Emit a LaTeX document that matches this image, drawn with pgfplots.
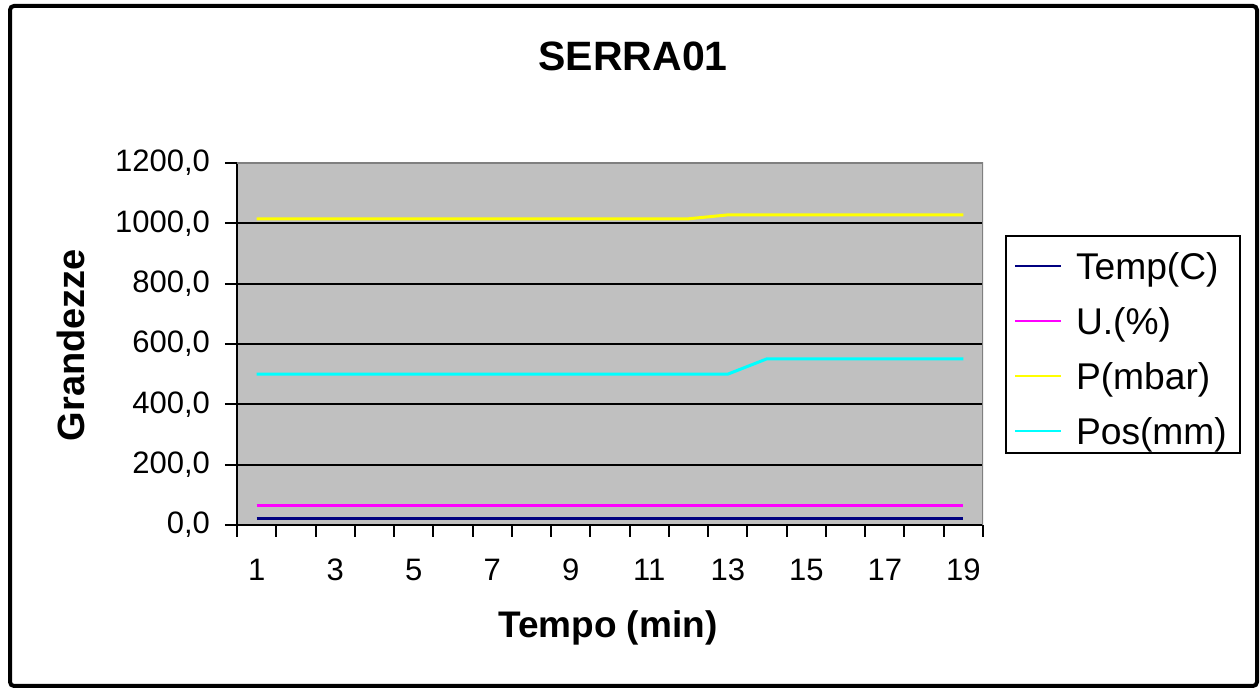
\documentclass[border=0pt]{standalone}
\usepackage{pgfplots}
\pgfplotsset{compat=1.18}
\usepackage{fontspec}
\setmainfont{Liberation Sans}

\definecolor{plotgray}{HTML}{C0C0C0}
\definecolor{tempc}{HTML}{000080}
\definecolor{umid}{HTML}{FF00FF}
\definecolor{press}{HTML}{FFFF00}
\definecolor{posc}{HTML}{00FFFF}

% 1 px of the reference = 0.5pt
\begin{document}
\begin{tikzpicture}
\fill[white] (0,0) rectangle (630pt,344pt);
\draw[line width=2pt, rounded corners=2pt] (5pt,1pt) rectangle (628.5pt,341pt);

\begin{axis}[
  at={(118.5pt,81.5pt)}, anchor=south west,
  scale only axis,
  width=373pt, height=181pt,
  xmin=0.5, xmax=19.5,
  ymin=0, ymax=1200,
  axis lines*=left,
  axis line style={black, line width=1pt},
  axis background/.style={fill=plotgray},
  xtick={1,3,...,19},
  major x tick style={draw=none},
  minor xtick={0.5,1.5,...,19.5},
  ytick={0,200,...,1200},
  extra y ticks={200,400,...,1000},
  extra y tick labels={},
  extra y tick style={major tick length=0pt, grid=major},
  grid style={black, line width=1pt},
  tick align=outside,
  major tick length=6pt,
  minor tick length=6pt,
  tick style={black, line width=1pt},
  tick label style={font=\fontsize{15.5}{18}\selectfont},
  /pgf/number format/assume math mode=true,
  yticklabel style={xshift=-4pt, /pgf/number format/.cd, fixed, fixed zerofill, precision=1, use comma, 1000 sep={}},
  xticklabel style={yshift=-7.5pt},
  title={\bfseries SERRA01},
  title style={at={(axis description cs:0.531,1.221)}, anchor=base, font=\fontsize{20.5}{24}\selectfont},
  xlabel={\bfseries Tempo (min)},
  xlabel style={at={(axis description cs:0.497,-0.312)}, anchor=base, font=\fontsize{18.5}{22}\selectfont},
  ylabel={\bfseries Grandezze},
  ylabel style={at={(axis description cs:-0.2038,0.497)}, anchor=base, font=\fontsize{19}{22}\selectfont},
  legend style={at={(axis description cs:1.0295,0.801)}, anchor=north west,
    draw=black, line width=1pt, fill=white,
    font=\fontsize{18.6}{22}\selectfont,
    inner xsep=4pt, inner ysep=3.5pt, row sep=8.5pt,
    nodes={inner xsep=2.5pt, inner ysep=1pt, text height=17pt, text depth=0pt},
    /tikz/every odd column/.append style={column sep=4.5pt}},
  legend cell align=left,
  legend image code/.code={\draw[#1, line width=1pt] (0pt,-2pt) -- (23pt,-2pt);},
]
\addplot[tempc, line width=1.5pt] coordinates {
  (1,20) (2,20) (3,20) (4,20) (5,20) (6,20) (7,20) (8,20) (9,20) (10,20)
  (11,20) (12,20) (13,20) (14,20) (15,20) (16,20) (17,20) (18,20) (19,20)};
\addlegendentry{Temp(C)}
\addplot[umid, line width=1.5pt] coordinates {
  (1,65) (2,65) (3,65) (4,65) (5,65) (6,65) (7,65) (8,65) (9,65) (10,65)
  (11,65) (12,65) (13,65) (14,65) (15,65) (16,65) (17,65) (18,65) (19,65)};
\addlegendentry{U.(\%)}
\addplot[press, line width=1.5pt] coordinates {
  (1,1015) (2,1015) (3,1015) (4,1015) (5,1015) (6,1015) (7,1015) (8,1015) (9,1015) (10,1015)
  (11,1015) (12,1015) (13,1028) (14,1028) (15,1028) (16,1028) (17,1028) (18,1028) (19,1028)};
\addlegendentry{P(mbar)}
\addplot[posc, line width=1.5pt] coordinates {
  (1,500) (2,500) (3,500) (4,500) (5,500) (6,500) (7,500) (8,500) (9,500) (10,500)
  (11,500) (12,500) (13,500) (14,551) (15,551) (16,551) (17,551) (18,551) (19,551)};
\addlegendentry{Pos(mm)}
\draw[gray, line width=0.8pt] (rel axis cs:0,1) -- (rel axis cs:1,1) -- (rel axis cs:1,0);
\end{axis}
\end{tikzpicture}
\end{document}
